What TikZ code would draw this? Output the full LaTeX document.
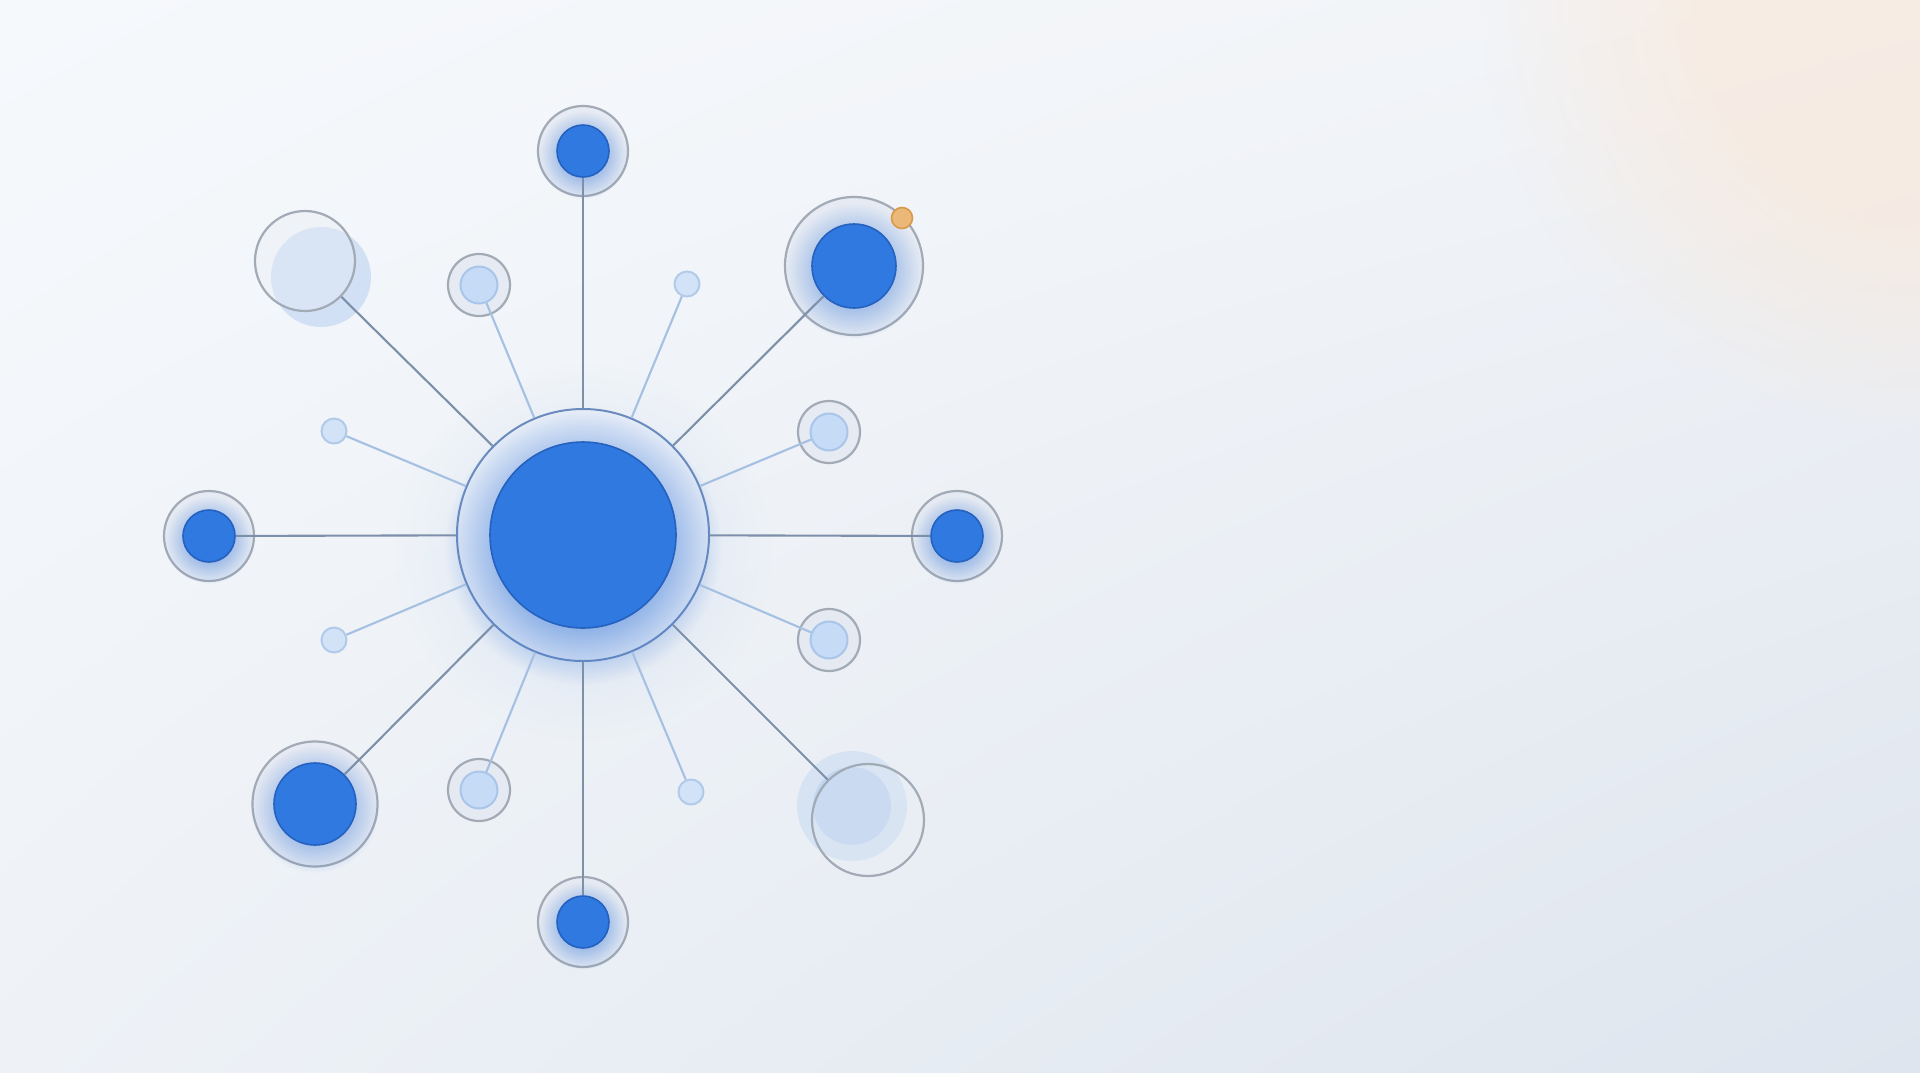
\documentclass[tikz,border=0pt]{standalone}
\usetikzlibrary{fadings,shadings}
\definecolor{bgA}{HTML}{F6F9FC}
\definecolor{bgB}{HTML}{F1F3F7}
\definecolor{bgC}{HTML}{EEF2F7}
\definecolor{bgD}{HTML}{DEE5EE}
\definecolor{peach}{HTML}{FCE6D2}
\definecolor{mainblue}{HTML}{2F79E0}
\definecolor{mainedge}{HTML}{2561BF}
\definecolor{glowblue}{HTML}{3D7BD8}
\definecolor{ringgrey}{HTML}{A2AAB6}
\definecolor{ringfill}{HTML}{E4E9F2}
\definecolor{hubedge}{HTML}{6C8CBE}
\definecolor{hubfill}{HTML}{E9EFF9}
\definecolor{spokemajor}{HTML}{7D90AA}
\definecolor{spokeminor}{HTML}{A5C0E2}
\definecolor{softfill}{HTML}{C6DBF5}
\definecolor{softedge}{HTML}{A9C5EA}
\definecolor{dotfill}{HTML}{D2E2F7}
\definecolor{dotedge}{HTML}{B2CAEA}
\definecolor{ghost}{HTML}{C4D8F2}
\definecolor{ghostdeep}{HTML}{B6CEEF}
\definecolor{ghostlight}{HTML}{E8EEF6}
\definecolor{orangefill}{HTML}{EBB878}
\definecolor{orangeedge}{HTML}{D9994A}
\pgfdeclareradialshading{glowsh}{\pgfpointorigin}{color(0bp)=(white); color(13bp)=(white); color(25bp)=(black); color(50bp)=(black)}
\pgfdeclarefading{glowfade}{\pgfuseshading{glowsh}}
\tikzset{
  satring/.style={circle, draw=ringgrey, line width=2.2pt, fill=ringfill, fill opacity=0.8, inner sep=0pt, minimum size=#1},
  bluedot/.style={circle, draw=mainedge, line width=1.6pt, fill=mainblue, inner sep=0pt, minimum size=#1},
  softdot/.style={circle, draw=softedge, line width=2pt, fill=softfill, inner sep=0pt, minimum size=#1},
  tinydot/.style={circle, draw=dotedge, line width=2pt, fill=dotfill, inner sep=0pt, minimum size=#1},
  ghostdot/.style={circle, fill=ghost, fill opacity=#1, inner sep=0pt},
  spokeM/.style={draw=spokemajor, line width=2.1pt},
  spokem/.style={draw=spokeminor, line width=2.1pt},
  glow/.style={fill=glowblue, path fading=glowfade, fill opacity=#1},
}
\begin{document}
\begin{tikzpicture}[x=1pt,y=-1pt]
\useasboundingbox (0,0) rectangle (1920,1072);
% background
\shade[upper left=bgA, upper right=bgB, lower left=bgC, lower right=bgD] (0,0) rectangle (1920,1072);
\fill[peach, path fading=glowfade, fill opacity=0.5] (1920,0) circle (440pt);
% faint haze round the hub
\fill[glow=0.06] (583,552) circle (190pt);
% satellite rings
\node[satring=90pt]  (ringT)  at (583,151) {};
\node[satring=90pt]  (ringB)  at (583,922) {};
\node[satring=90pt]  (ringL)  at (209,536) {};
\node[satring=90pt]  (ringR)  at (957,536) {};
\node[satring=138pt] (ringTR) at (854,266) {};
\node[satring=125pt] (ringBL) at (315,804) {};
\node[satring=62pt]  (ringS1) at (479,285) {};
\node[satring=62pt]  (ringS2) at (829,432) {};
\node[satring=62pt]  (ringS3) at (829,640) {};
\node[satring=62pt]  (ringS4) at (479,790) {};
% ghost satellites
\node[ghostdot=0.7, minimum size=100pt] (ghostTL) at (321,277) {};
\node[satring=100pt, fill=ghostlight, fill opacity=0.35] (ringTL) at (305,261) {};
\node[ghostdot=0.5, minimum size=110pt] (ghostBRa) at (852,806) {};
\node[ghostdot=0.6, fill=ghostdeep, minimum size=78pt]  (ghostBRb) at (852,806) {};
\node[satring=112pt, fill=ghostlight, fill opacity=0.2] (ringBR) at (868,820) {};
% hub ring
\node[circle, draw=hubedge, line width=2pt, fill=hubfill, fill opacity=0.92, inner sep=0pt, minimum size=252pt] (hubring) at (583,535) {};
% glows
\fill[glow=0.6] (583,547) circle (138pt);
\fill[glow=0.40] (583,155) circle (44pt);
\fill[glow=0.40] (583,926) circle (44pt);
\fill[glow=0.40] (209,540) circle (44pt);
\fill[glow=0.40] (957,540) circle (44pt);
\fill[glow=0.40] (854,271) circle (68pt);
\fill[glow=0.40] (315,809) circle (64pt);
% inner circles
\node[bluedot=186pt] (hub) at (583,535) {};
\node[bluedot=52pt] (satT) at (583,151) {};
\node[bluedot=52pt] (satB) at (583,922) {};
\node[bluedot=52pt] (satL) at (209,536) {};
\node[bluedot=52pt] (satR) at (957,536) {};
\node[bluedot=84pt] (satTR) at (854,266) {};
\node[bluedot=82pt] (satBL) at (315,804) {};
\node[softdot=37pt] (soft1) at (479,285) {};
\node[softdot=37pt] (soft2) at (829,432) {};
\node[softdot=37pt] (soft3) at (829,640) {};
\node[softdot=37pt] (soft4) at (479,790) {};
\node[tinydot=25pt] (tiny1) at (687,284) {};
\node[tinydot=25pt] (tiny2) at (334,431) {};
\node[tinydot=25pt] (tiny3) at (334,640) {};
\node[tinydot=25pt] (tiny4) at (691,792) {};
\node[circle, draw=orangeedge, line width=1.6pt, fill=orangefill, inner sep=0pt, minimum size=21pt] (badge) at (902,218) {};
% major spokes
\draw[spokeM] (hubring) -- (satT);
\draw[spokeM] (hubring) -- (satB);
\draw[spokeM] (hubring) -- (satL);
\draw[spokeM] (hubring) -- (satR);
\draw[spokeM] (hubring) -- (satTR);
\draw[spokeM] (hubring) -- (satBL);
\draw[spokeM] (hubring) -- (ringTL);
\draw[spokeM] (hubring) -- (ringBR);
% minor spokes
\draw[spokem] (hubring) -- (soft1);
\draw[spokem] (hubring) -- (soft2);
\draw[spokem] (hubring) -- (soft3);
\draw[spokem] (hubring) -- (soft4);
\draw[spokem] (hubring) -- (tiny1);
\draw[spokem] (hubring) -- (tiny2);
\draw[spokem] (hubring) -- (tiny3);
\draw[spokem] (hubring) -- (tiny4);
\end{tikzpicture}
\end{document}
